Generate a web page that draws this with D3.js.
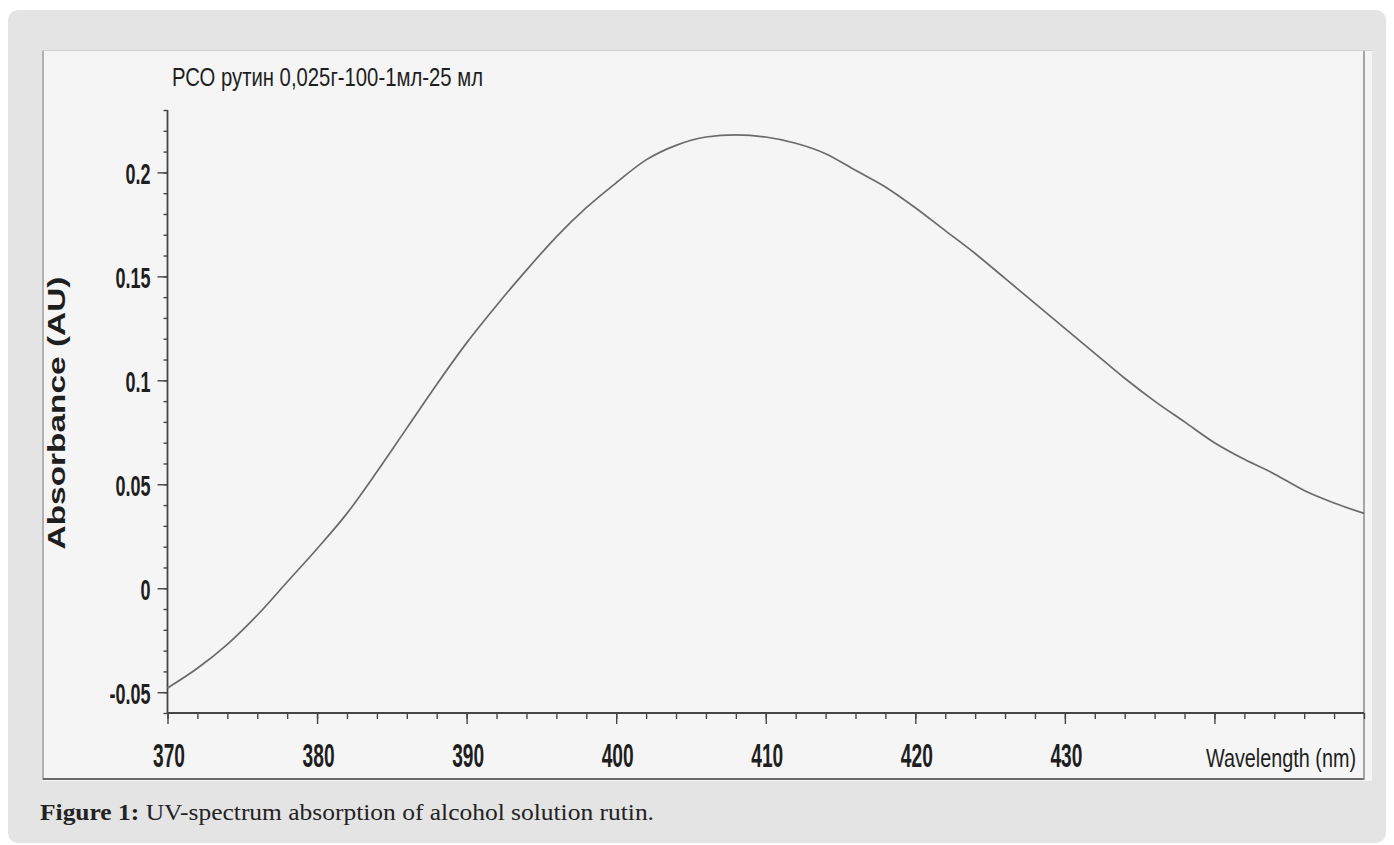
<!DOCTYPE html>
<html>
<head>
<meta charset="utf-8">
<script src="https://cdn.jsdelivr.net/npm/d3@7"></script>
<style>
  body { margin: 0; background: #ffffff; }
  svg { display: block; }
</style>
</head>
<body>
<div id="chart"></div>
<script>
// spectrum (nm, AU)
const wavelengths = [370, 372, 374, 376, 378, 380, 382, 384, 386, 388, 390, 392, 394, 396, 398, 400,
  402, 404, 406, 408, 410, 412, 414, 416, 418, 420, 422, 424, 426, 428, 430, 432, 434, 436, 438, 440,
  442, 444, 446, 448, 450];
const absorbance = [-0.048, -0.0385, -0.027, -0.013, 0.003, 0.019, 0.036, 0.056, 0.077, 0.098, 0.118,
  0.136, 0.153, 0.169, 0.183, 0.195, 0.206, 0.213, 0.217, 0.218, 0.217, 0.214, 0.209, 0.201, 0.193,
  0.183, 0.172, 0.161, 0.149, 0.137, 0.125, 0.113, 0.101, 0.090, 0.080, 0.070, 0.062, 0.055, 0.047,
  0.041, 0.036];

const xMajorTicks = [370, 380, 390, 400, 410, 420, 430, 440];
const xTickLabels = ["370", "380", "390", "400", "410", "420", "430", ""];
const yMajorTicks = [-0.05, 0, 0.05, 0.1, 0.15, 0.2];
const yTickLabels = ["-0.05", "0", "0.05", "0.1", "0.15", "0.2"];

const chartTitle = "РСО рутин 0,025г-100-1мл-25 мл";
const xTitle = "Wavelength (nm)";
const yTitle = "Absorbance (AU)";
const captionBold = "Figure 1:";
const captionText = " UV-spectrum absorption of alcohol solution rutin.";

const W = 1394, H = 845;

const svg = d3.select("#chart").append("svg")
  .attr("width", W)
  .attr("height", H);

// card background
svg.append("rect")
  .attr("x", 8).attr("y", 10)
  .attr("width", 1378).attr("height", 833)
  .attr("rx", 10)
  .attr("fill", "#e4e4e4");

// scanned figure area
svg.append("rect")
  .attr("x", 42).attr("y", 50)
  .attr("width", 1330).attr("height", 731)
  .attr("fill", "#f5f5f5");

// frame lines of the scan
svg.append("line").attr("x1", 43).attr("x2", 43).attr("y1", 50).attr("y2", 780)
  .attr("stroke", "#9a9a9a").attr("stroke-width", 1.5);
svg.append("line").attr("x1", 43).attr("x2", 1364).attr("y1", 779).attr("y2", 779)
  .attr("stroke", "#6a6a6a").attr("stroke-width", 2);
svg.append("line").attr("x1", 1364).attr("x2", 1364).attr("y1", 50).attr("y2", 780)
  .attr("stroke", "#8a8a8a").attr("stroke-width", 1.5);
svg.append("line").attr("x1", 42).attr("x2", 1372).attr("y1", 50.5).attr("y2", 50.5)
  .attr("stroke", "#d0d0d0").attr("stroke-width", 1);

// scales
const x = d3.scaleLinear().domain([370, 450]).range([167.5, 1364]);
const y = d3.scaleLinear().domain([-0.06, 0.23]).range([713, 110]);

const axisColor = "#454545";
const textColor = "#1e1e1e";
const fontSans = "'Liberation Sans', Arial, sans-serif";

// x axis: minor ticks every 2 nm
const xMinor = svg.append("g")
  .attr("transform", "translate(0,713)")
  .call(d3.axisBottom(x).tickValues(d3.range(370, 451, 2)).tickSize(6).tickFormat(""));

const xMajor = svg.append("g")
  .attr("transform", "translate(0,713)")
  .call(d3.axisBottom(x).tickValues(xMajorTicks).tickSize(11)
    .tickFormat((d, i) => xTickLabels[i]));

xMajor.selectAll("text")
  .attr("y", 0)
  .attr("dy", 0)
  .attr("font-weight", "bold")
  .attr("transform", "translate(1,54) scale(0.58,1)")
  .attr("font-size", 33);

// y axis: minor ticks every 0.01
const yMinor = svg.append("g")
  .attr("transform", "translate(167.5,0)")
  .call(d3.axisLeft(y).tickValues(d3.range(-6, 24).map(v => v / 100)).tickSize(4).tickFormat(""));

const yMajor = svg.append("g")
  .attr("transform", "translate(167.5,0)")
  .call(d3.axisLeft(y).tickValues(yMajorTicks).tickSize(10)
    .tickFormat((d, i) => yTickLabels[i]));

yMajor.selectAll("text")
  .attr("x", 0)
  .attr("dy", 0)
  .attr("font-weight", "bold")
  .attr("transform", "translate(-17,11) scale(0.6,1)")
  .attr("font-size", 30);

[xMinor, xMajor, yMinor, yMajor].forEach(g => {
  g.select(".domain").attr("stroke", axisColor).attr("stroke-width", 1.8);
  g.selectAll(".tick line").attr("stroke", axisColor).attr("stroke-width", 1.4);
  g.selectAll("text")
    .attr("fill", textColor)
    .attr("font-family", fontSans);
});
// single axis paths without end caps
yMajor.select(".domain").remove();
yMinor.select(".domain").attr("d", `M0,${y(0.23)}V${y(-0.06)}`);
xMajor.select(".domain").remove();
xMinor.select(".domain").attr("d", `M${x(370)},0H${x(450)}`);

// spectrum line
const line = d3.line()
  .x((d, i) => x(wavelengths[i]))
  .y(d => y(d))
  .curve(d3.curveMonotoneX);

svg.append("path")
  .datum(absorbance)
  .attr("fill", "none")
  .attr("stroke", "#6a6a6a")
  .attr("stroke-width", 1.7)
  .attr("d", line);

// titles
svg.append("text")
  .attr("x", 172).attr("y", 86)
  .attr("font-family", fontSans)
  .attr("font-size", 25)
  .attr("fill", textColor)
  .attr("textLength", 311)
  .attr("lengthAdjust", "spacingAndGlyphs")
  .text(chartTitle);

svg.append("text")
  .attr("x", 1206).attr("y", 767)
  .attr("font-family", fontSans)
  .attr("font-size", 25)
  .attr("fill", textColor)
  .attr("textLength", 150)
  .attr("lengthAdjust", "spacingAndGlyphs")
  .text(xTitle);

svg.append("text")
  .attr("transform", "translate(65,413) rotate(-90)")
  .attr("text-anchor", "middle")
  .attr("font-family", fontSans)
  .attr("font-weight", "bold")
  .attr("font-size", 24)
  .attr("fill", textColor)
  .attr("textLength", 273)
  .attr("lengthAdjust", "spacingAndGlyphs")
  .text(yTitle);

// caption
const cap = svg.append("text")
  .attr("x", 40).attr("y", 820)
  .attr("font-family", "'Liberation Serif', 'Times New Roman', serif")
  .attr("font-size", 23)
  .attr("fill", "#222")
  .attr("textLength", 614)
  .attr("lengthAdjust", "spacingAndGlyphs");
cap.append("tspan").attr("font-weight", "bold").text(captionBold);
cap.append("tspan").text(captionText);
</script>
</body>
</html>
